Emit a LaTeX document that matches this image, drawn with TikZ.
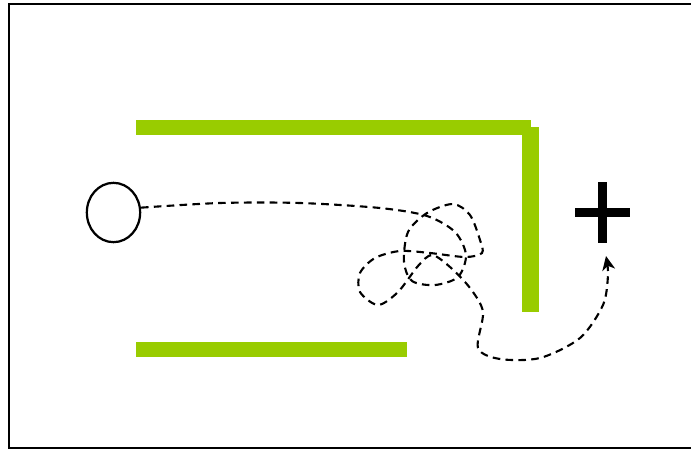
\documentclass[tikz,border=0pt]{standalone}
\usetikzlibrary{shapes.geometric,arrows.meta}
\definecolor{bargreen}{RGB}{153,204,0}
\tikzset{
  bar/.style={fill=bargreen, draw=none},
  walk/.style={line width=1.8pt, dash pattern=on 6.5pt off 4.5pt, -{Stealth[length=12pt,width=11pt,inset=3.5pt]}},
  source/.style={ellipse, draw, line width=1.9pt, minimum width=1.6cm, minimum height=1.78cm, inner sep=0pt},
  plusbar/.style={fill=black, draw=none}
}
\begin{document}
\begin{tikzpicture}[x=0.03cm,y=-0.03cm]
\useasboundingbox (0,0) rectangle (691,449);
\draw[line width=1.3pt] (9,4) rectangle (700,448);
% green walls
\fill[bar] (136,120) rectangle (531,135);
\fill[bar] (522,127) rectangle (539,312);
\fill[bar] (136,342) rectangle (407,357);
% plus sign
\node[minimum width=1.65cm, minimum height=1.83cm, inner sep=0pt] (plus) at (602.5,212.5) {};
\fill[plusbar] (598,182) rectangle (607,243);
\fill[plusbar] (575,208) rectangle (630,217);
% source
\node[source] (ell) at (113.5,212.5) {};
\coordinate (tip) at (606,256);
\draw[walk] plot[smooth] coordinates {(ell.10) (220,203) (300,203) (380,208) (427,216) (455,232) (466,255) (458,277) (435,285) (412,281) (404,262) (408,232) (427,213) (453,204) (470,215) (480,240) (482,253) (465,257) (430,253) (400,251) (375,258) (360,273) (360,292) (378,305) (398,292) (418,266) (432,255) (450,267) (470,288) (483,312) (478,348) (500,359) (540,358) (580,338) (603,305) (608,275) (tip)};
\end{tikzpicture}
\end{document}
